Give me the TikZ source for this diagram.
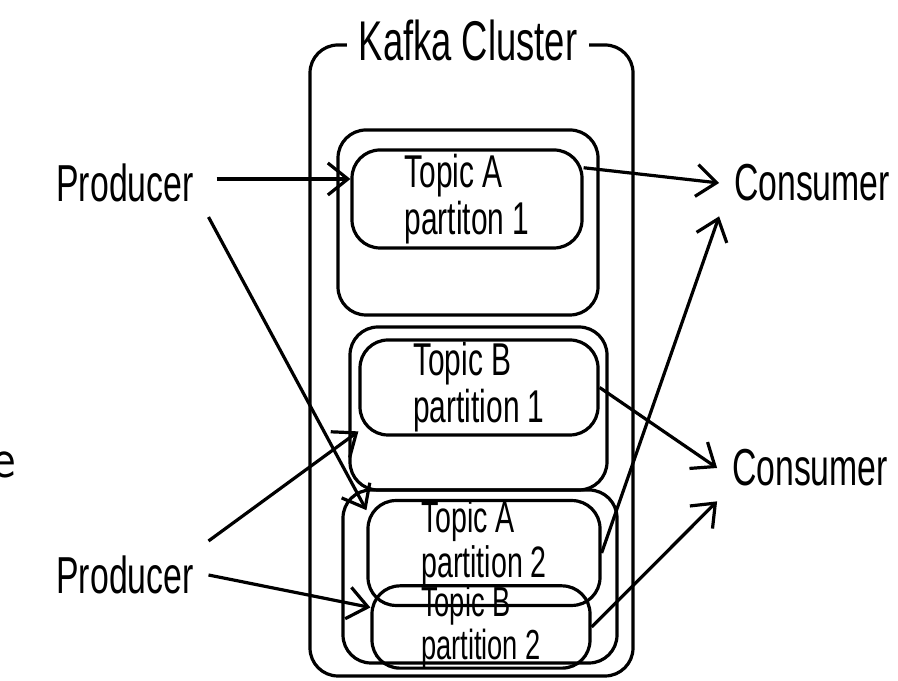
\documentclass[tikz,border=0pt]{standalone}
\usepackage{fontspec}
\newfontfamily\hand[FakeStretch=0.65]{Liberation Sans}
\usetikzlibrary{arrows.meta}

\begin{document}
\begin{tikzpicture}[x=0.25pt,y=-0.25pt, line width=0.8pt,
  box/.style={draw, rounded corners=7pt, inner sep=0pt},
  topicbox/.style={box, align=left, font=\hand\fontsize{11.5}{10.5}\selectfont},
  label/.style={font=\hand\fontsize{13}{14}\selectfont},
  arr/.style={-{Straight Barb[length=5pt,width=8pt]}}]
\useasboundingbox (0,0) rectangle (898,681);
\node[font=\sffamily\fontsize{14}{14}\selectfont, anchor=east] (cut) at (31,465) {e}; % Rest einer Folie
% Cluster und Broker
\node[box, minimum width=80.75pt, minimum height=157.75pt] (cluster) at (471.5,360.5) {};
\node[label, fill=white, inner sep=3pt, font=\hand\fontsize{14}{15}\selectfont] (title) at (468,40) {Kafka Cluster};
\node[box, minimum width=65pt, minimum height=46.25pt] (broker1) at (468,222.5) {};
\node[box, minimum width=64.25pt, minimum height=40.75pt] (broker2) at (478.5,408.5) {};
\node[box, minimum width=68.5pt, minimum height=43.25pt] (broker3) at (480,576.5) {};
% Partitionen
\node[topicbox, minimum width=57.5pt, minimum height=24.5pt] (tA1) at (467,199) {Topic A\\partiton 1};
\node[topicbox, minimum width=59.5pt, minimum height=23.75pt] (tB1) at (479,387.5) {Topic B\\partition 1};
\node[topicbox, minimum width=58pt, minimum height=22.25pt, text depth=7pt, font=\hand\fontsize{11}{10}\selectfont] (tA2) at (484,553) {Topic A\\partition 2};
\node[topicbox, minimum width=54.5pt, minimum height=14.5pt, font=\hand\fontsize{10.5}{8.5}\selectfont] (tB2) at (481,627) {Topic B\\partition 2};
% Producer und Consumer
\node[label] (prod1) at (125,183) {Producer};
\node[label] (prod2) at (125,575) {Producer};
\node[label] (cons1) at (812,183) {Consumer};
\node[label] (cons2) at (810,468) {Consumer};
% Pfeile
\draw[arr] (prod1.east) ++(2pt,1pt) coordinate (p1a) -- (tA1.west |- p1a);
\draw[arr] (prod1.south east) -- (tA2.160);
\draw[arr] (prod2.north east) -- (tB1.200);
\draw[arr] (prod2.east) -- (tB2.170);
\draw[arr] (tA1.15) -- (cons1.west);
\draw[arr] (tA2.east) -- (cons1.south west);
\draw[arr] (tB1.east) -- (cons2.west);
\draw[arr] (tB2.east) -- (cons2.south west);
\end{tikzpicture}
\end{document}
